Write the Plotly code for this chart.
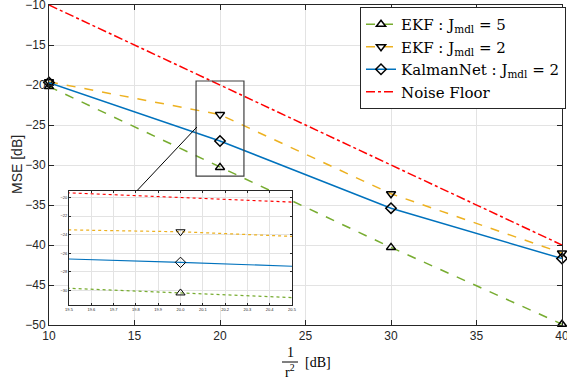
import plotly.graph_objects as go

snr_db = [10, 20, 30, 40]
ekf_j5 = [-20.2, -30.3, -40.3, -49.9]
ekf_j2 = [-19.6, -23.7, -33.6, -41.0]
kalmannet_j2 = [-19.7, -27.0, -35.4, -41.7]
noise_floor = [-10, -20, -30, -40]

x_ticks = [10, 15, 20, 25, 30, 35, 40]
y_ticks = [-50, -45, -40, -35, -30, -25, -20, -15, -10]
inset_x_ticks = [19.5, 19.6, 19.7, 19.8, 19.9, 20.0, 20.1, 20.2, 20.3, 20.4, 20.5]
inset_y_ticks = [-30, -28, -26, -24, -22, -20]

GREEN = "#77AC30"
ORANGE = "#EDB120"
BLUE = "#0072BD"
RED = "#FF0000"
AX = "#262626"
GRID = "#E3E3E3"

series = [
    ("EKF : J<sub>mdl</sub> = 5", ekf_j5, GREEN, "dash", "triangle-up-open"),
    ("EKF : J<sub>mdl</sub> = 2", ekf_j2, ORANGE, "dash", "triangle-down-open"),
    ("KalmanNet : J<sub>mdl</sub> = 2", kalmannet_j2, BLUE, "solid", "diamond-open"),
]

fig = go.Figure()
for name, vals, col, dash, sym in series:
    fig.add_trace(go.Scatter(
        x=snr_db, y=vals, name=name, mode="lines+markers",
        line=dict(color=col, width=1.5, dash=dash),
        marker=dict(symbol=sym, size=8, color="black", line=dict(width=1.5, color="black")),
        cliponaxis=False, xaxis="x", yaxis="y"))
fig.add_trace(go.Scatter(
    x=snr_db, y=noise_floor, name="Noise Floor", mode="lines",
    line=dict(color=RED, width=1.5, dash="dashdot"), xaxis="x", yaxis="y"))

# inset copies
for name, vals, col, dash, sym in series:
    fig.add_trace(go.Scatter(
        x=snr_db, y=vals, mode="lines+markers", showlegend=False,
        line=dict(color=col, width=1.2, dash="dot" if dash == "dash" else dash),
        marker=dict(symbol=sym, size=8, color="black", line=dict(width=1.0, color="black")),
        xaxis="x2", yaxis="y2"))
fig.add_trace(go.Scatter(
    x=snr_db, y=noise_floor, mode="lines", showlegend=False,
    line=dict(color=RED, width=1.2, dash="dot"), xaxis="x2", yaxis="y2"))

axis_common = dict(showline=True, linecolor=AX, linewidth=1, mirror="ticks",
                   ticks="inside", tickcolor=AX, showgrid=True, gridcolor=GRID,
                   gridwidth=1, zeroline=False, automargin=False,
                   ticklabeloverflow="allow")

fig.update_layout(
    width=567, height=380,
    margin=dict(l=49, r=5, t=5, b=55, autoexpand=False),
    paper_bgcolor="white", plot_bgcolor="white",
    font=dict(family="Liberation Sans", size=12, color=AX),
    xaxis=dict(range=[10, 40], tickvals=x_ticks, ticklen=5, domain=[0, 1],
               tickfont=dict(size=12, color=AX), **axis_common),
    yaxis=dict(range=[-50, -10], tickvals=y_ticks, ticklen=5, domain=[0, 1],
               tickfont=dict(size=12, color=AX), **axis_common),
    xaxis2=dict(range=[19.5, 20.5], tickvals=inset_x_ticks, ticklen=2,
                domain=[(69 - 49) / 513, (292 - 49) / 513], anchor="y2",
                tickfont=dict(size=4, color=AX), tickformat=".1f", **axis_common),
    yaxis2=dict(range=[-31.6, -19.3], tickvals=inset_y_ticks, ticklen=2,
                domain=[(325 - 305) / 320, (325 - 191) / 320], anchor="x2",
                tickfont=dict(size=4, color=AX), **axis_common),
    showlegend=True,
    legend=dict(x=(566 - 49) / 513, xanchor="right", y=(325 - 7) / 320, yanchor="top",
                bgcolor="white", bordercolor=AX, borderwidth=1,
                font=dict(family="DejaVu Serif", size=15, color="black"),
                itemwidth=30, tracegroupgap=0),
)

# zoom rectangle and connector
fig.add_shape(type="rect", xref="x", yref="y", x0=18.6, x1=21.4, y0=-31.4, y1=-19.5,
              line=dict(color="#404040", width=1.2), layer="above")
fig.add_shape(type="line", xref="x", yref="y", x0=18.65, y0=-25.25, x1=15.15, y1=-33.2,
              line=dict(color="black", width=1), layer="above")

# y label
fig.add_annotation(text="MSE [dB]", xref="paper", yref="paper", x=0, y=0.5,
                   xanchor="center", yanchor="middle", xshift=-32, textangle=-90,
                   showarrow=False, font=dict(family="Liberation Sans", size=14, color=AX))

# x label: fraction 1/r^2 [dB]
fx = (290 - 49) / 513
fig.add_annotation(text="1", xref="paper", yref="paper", x=fx, y=0, yshift=-27,
                   xanchor="center", yanchor="middle", showarrow=False,
                   font=dict(family="Liberation Serif", size=14, color="black"))
fig.add_annotation(text="r<sup>2</sup>", xref="paper", yref="paper", x=fx, y=0, yshift=-46,
                   xanchor="center", yanchor="middle", showarrow=False,
                   font=dict(family="Liberation Serif", size=14, color="black"))
fig.add_annotation(text="[dB]", xref="paper", yref="paper", x=(318 - 49) / 513, y=0, yshift=-37,
                   xanchor="center", yanchor="middle", showarrow=False,
                   font=dict(family="Liberation Serif", size=14, color="black"))
fig.add_shape(type="line", xref="paper", yref="paper",
              x0=(282 - 49) / 513, x1=(298 - 49) / 513, y0=(325 - 362) / 320, y1=(325 - 362) / 320,
              line=dict(color="black", width=1))

fig.write_html("out.html", config={"displayModeBar": False},
               post_script="document.body.style.margin='0';")
